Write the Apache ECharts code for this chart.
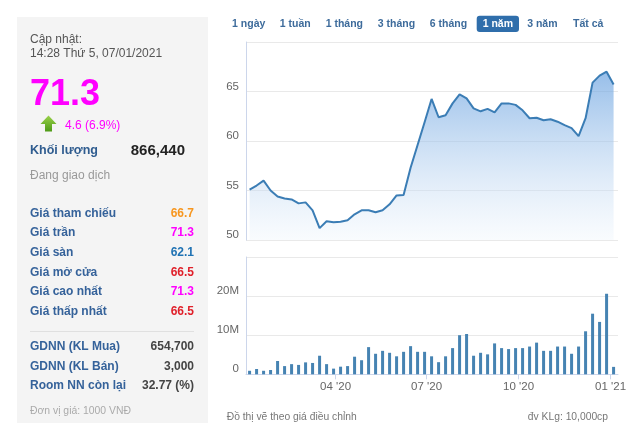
<!DOCTYPE html>
<html>
<head>
<meta charset="utf-8">
<script src="https://cdn.jsdelivr.net/npm/echarts@6/dist/echarts.min.js"></script>
<style>
html,body{margin:0;padding:0;background:#fff;}
#chart{width:630px;height:431px;}
</style>
</head>
<body>
<div id="chart"></div>
<script>
// ---- data ----
const dates = ['2020-01-06','2020-01-13','2020-01-20','2020-01-27','2020-02-03','2020-02-10','2020-02-17','2020-02-24',
  '2020-03-02','2020-03-09','2020-03-16','2020-03-23','2020-03-30','2020-04-06','2020-04-13','2020-04-20','2020-04-27',
  '2020-05-04','2020-05-11','2020-05-18','2020-05-25','2020-06-01','2020-06-08','2020-06-15','2020-06-22','2020-06-29',
  '2020-07-06','2020-07-13','2020-07-20','2020-07-27','2020-08-03','2020-08-10','2020-08-17','2020-08-24','2020-08-31',
  '2020-09-07','2020-09-14','2020-09-21','2020-09-28','2020-10-05','2020-10-12','2020-10-19','2020-10-26',
  '2020-11-02','2020-11-09','2020-11-16','2020-11-23','2020-11-30','2020-12-07','2020-12-14','2020-12-21','2020-12-28',
  '2021-01-04'];
const prices = [55.1,55.5,56.0,55.0,54.4,54.2,54.1,53.7,53.8,53.0,
  51.2,51.9,51.8,51.85,52.0,52.6,53.0,53.0,52.8,53.0,
  53.6,54.5,54.55,57.3,59.6,61.9,64.25,62.4,62.6,63.8,
  64.7,64.3,63.3,63.0,63.25,62.9,63.8,63.8,63.65,63.1,
  62.3,62.35,62.1,62.2,61.95,61.6,61.3,60.5,62.3,65.9,
  66.6,67.0,65.7];
const volumesM = [0.9,1.35,0.9,1.1,3.4,2.1,2.6,2.4,3.05,2.9,
  4.75,2.6,1.45,1.95,2.1,4.5,3.6,6.95,5.25,6.0,
  5.5,4.6,5.75,7.2,5.75,5.75,4.6,3.1,4.6,6.7,
  10.0,10.3,4.75,5.5,5.1,7.9,6.7,6.45,6.7,6.7,
  7.1,8.1,6.0,6.0,7.1,7.1,5.25,7.1,11.0,15.5,
  13.4,20.6,1.9];
const monthTickDates = ['2020-04-01','2020-07-01','2020-10-01','2021-01-01'];
const monthTickLabels = ["04 '20","07 '20","10 '20","01 '21"];
const axisStart = '2020-01-02 10:00';
const axisEnd = '2021-01-08 10:00';

const rangeButtons = ['1 ngày','1 tuần','1 tháng','3 tháng','6 tháng','1 năm','3 năm','Tất cả'];
const activeButton = '1 năm';
const priceRows = ['Giá tham chiếu','Giá trần','Giá sàn','Giá mở cửa','Giá cao nhất','Giá thấp nhất'];
const priceRowValues = ['66.7','71.3','62.1','66.5','71.3','66.5'];
const foreignRows = ['GDNN (KL Mua)','GDNN (KL Bán)','Room NN còn lại'];
const foreignRowValues = ['654,700','3,000','32.77 (%)'];

// ---- helpers ----
function toTs(s){
  const m = s.match(/(\d+)-(\d+)-(\d+)(?:\s+(\d+):(\d+))?/);
  return Date.UTC(+m[1], +m[2]-1, +m[3], m[4]?+m[4]:0, m[5]?+m[5]:0);
}
const tickTs = monthTickDates.map(toTs);
const FF = '"Liberation Sans", Arial, sans-serif';

function txt(text, x, y, font, fill, align){
  return {type:'text', silent:true, style:{text:text, x:x, y:y, font:font + ' ' + FF, fill:fill,
    align:align||'left', verticalAlign:'middle', textAlign:align||'left', textVerticalAlign:'middle'}};
}

const graphics = [];
// left panel
graphics.push({type:'rect', silent:true, shape:{x:17, y:17, width:191, height:406}, style:{fill:'#f4f4f4'}});
graphics.push(txt('Cập nhật:', 30, 39.5, '12px', '#555'));
graphics.push(txt('14:28 Thứ 5, 07/01/2021', 30, 53.5, '12px', '#555'));
graphics.push(txt('71.3', 30, 95, 'bold 36px', '#ff00ff'));
graphics.push({type:'polygon', silent:true, shape:{points:[[48.5,115.5],[56.5,124],[52,124],[52,131.5],[45,131.5],[45,124],[40.5,124]]},
  style:{fill:{type:'linear',x:0,y:0,x2:0,y2:1,colorStops:[{offset:0,color:'#9ad24a'},{offset:1,color:'#4e9a16'}]}}});
graphics.push(txt('4.6 (6.9%)', 65, 126, '12px', '#ff00ff'));
graphics.push(txt('Khối lượng', 30, 151, 'bold 12.5px', '#2f5c8f'));
graphics.push(txt('866,440', 185, 150.5, 'bold 15px', '#222', 'right'));
graphics.push(txt('Đang giao dịch', 30, 176, '12px', '#999'));
const rowColors = ['#f7961e','#ff00ff','#1f72b3','#e0202a','#ff00ff','#e0202a'];
priceRows.forEach(function(r, i){
  const y = 213.3 + i * 19.65;
  graphics.push(txt(r, 30, y, 'bold 12px', '#35629a'));
  graphics.push(txt(priceRowValues[i], 194, y, 'bold 12px', rowColors[i], 'right'));
});
graphics.push({type:'line', silent:true, shape:{x1:30, y1:331.5, x2:194, y2:331.5}, style:{stroke:'#e0e0e0', lineWidth:1}});
foreignRows.forEach(function(r, i){
  const y = 346.7 + i * 19.65;
  graphics.push(txt(r, 30, y, 'bold 12px', '#35629a'));
  graphics.push(txt(foreignRowValues[i], 194, y, 'bold 12px', '#444', 'right'));
});
graphics.push(txt('Đơn vị giá: 1000 VNĐ', 30, 411, '10.4px', '#aaa'));

// range buttons
const btnCenters = [248.7, 295.3, 344.3, 396.5, 448.5, 497.8, 542.3, 588.2];
rangeButtons.forEach(function(b, i){
  if (b === activeButton){
    graphics.push({type:'rect', silent:true, shape:{x:476.7, y:15.7, width:42.3, height:16.3, r:3}, style:{fill:'#2f6eab'}});
    graphics.push(txt(b, btnCenters[i], 24, 'bold 10.5px', '#fff', 'center'));
  } else {
    graphics.push(txt(b, btnCenters[i], 24, 'bold 10.5px', '#3d6b9b', 'center'));
  }
});
// footer notes
graphics.push(txt('Đồ thị vẽ theo giá điều chỉnh', 226.7, 416.7, '10.3px', '#777'));
graphics.push(txt('đv KLg: 10,000cp', 608, 416.7, '10.3px', '#777', 'right'));

const chart = echarts.init(document.getElementById('chart'));
const option = {
  animation: false,
  backgroundColor: '#fff',
  textStyle: {fontFamily: FF},
  grid: [
    {left:246, width:372, top:42, height:198},
    {left:246, width:372, top:257, height:117.3}
  ],
  xAxis: [
    {type:'value', gridIndex:0, min:toTs(axisStart), max:toTs(axisEnd),
      axisLine:{show:false}, axisTick:{show:false}, axisLabel:{show:false}, splitLine:{show:false}},
    {type:'value', gridIndex:1, min:toTs(axisStart), max:toTs(axisEnd),
      axisLine:{show:true, onZero:false, lineStyle:{color:'#ccd6eb'}},
      axisTick:{show:true, customValues:tickTs, length:5, lineStyle:{color:'#ccd6eb'}},
      axisLabel:{customValues:tickTs, color:'#666', fontSize:11.5, margin:7, hideOverlap:false,
        formatter:function(v){
          for (let i = 0; i < tickTs.length; i++) if (Math.abs(tickTs[i] - v) < 43200000) return monthTickLabels[i];
          return '';
        }},
      splitLine:{show:false}}
  ],
  yAxis: [
    {type:'value', gridIndex:0, min:50, max:70, interval:5,
      axisLine:{show:true, lineStyle:{color:'#ccd6eb'}}, axisTick:{show:false},
      axisLabel:{showMaxLabel:false, color:'#666', fontSize:11.5, margin:7, verticalAlign:'bottom', lineHeight:10},
      splitLine:{lineStyle:{color:'#e9e9e9'}}},
    {type:'value', gridIndex:1, min:0, max:30, interval:10,
      axisLine:{show:true, lineStyle:{color:'#ccd6eb'}}, axisTick:{show:false},
      axisLabel:{showMaxLabel:false, color:'#666', fontSize:11.5, margin:7, verticalAlign:'bottom', lineHeight:10,
        formatter:function(v){ return v === 0 ? '0' : v + 'M'; }},
      splitLine:{lineStyle:{color:'#e9e9e9'}}}
  ],
  series: [
    {type:'line', xAxisIndex:0, yAxisIndex:0, showSymbol:false, symbol:'none',
      data: dates.map(function(d, i){ return [toTs(d), prices[i]]; }),
      lineStyle:{color:'#3b7db5', width:2},
      areaStyle:{origin:'start', color:{type:'linear', x:0, y:0, x2:0, y2:1, colorStops:[
        {offset:0, color:'rgba(98,157,222,0.95)'},
        {offset:1, color:'rgba(238,245,252,0.5)'}]}}},
    {type:'bar', xAxisIndex:1, yAxisIndex:1, barWidth:3,
      data: dates.map(function(d, i){ return [toTs(d), volumesM[i]]; }),
      itemStyle:{color:'#4683b2'}}
  ],
  graphic: graphics
};
chart.setOption(option);
</script>
</body>
</html>
